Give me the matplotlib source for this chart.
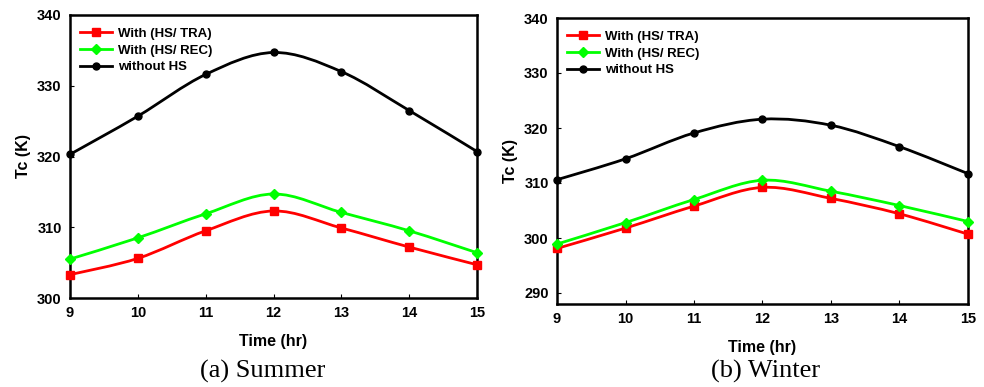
import matplotlib
matplotlib.use("Agg")
import matplotlib.pyplot as plt
from matplotlib.path import Path
from matplotlib.patches import PathPatch
from matplotlib.lines import Line2D

hours = [9, 10, 11, 12, 13, 14, 15]
labels = ["With (HS/ TRA)", "With (HS/ REC)", "without HS"]

summer_tra = [303.3, 305.6, 309.5, 312.3, 309.9, 307.2, 304.7]
summer_rec = [305.5, 308.5, 311.9, 314.7, 312.1, 309.5, 306.4]
summer_without = [320.3, 325.7, 331.6, 334.7, 332.0, 326.5, 320.7]

winter_tra = [298.1, 301.8, 305.8, 309.2, 307.2, 304.4, 300.7]
winter_rec = [298.9, 302.8, 307.0, 310.5, 308.5, 305.9, 303.0]
winter_without = [310.6, 314.4, 319.1, 321.6, 320.5, 316.6, 311.7]

captions = ["(a) Summer", "(b) Winter"]

plt.rcParams['font.family'] = ['Liberation Sans', 'DejaVu Sans']

fig = plt.figure(figsize=(9.84, 3.87), dpi=100)
W, H = 984, 387

def add_axes(l, t, r, b):
    return fig.add_axes([l / W, 1 - b / H, (r - l) / W, (b - t) / H])

ax1 = add_axes(70, 15, 477, 298)
ax2 = add_axes(557, 18, 968, 304)

styles = [
    dict(color="#ff0000", marker="s", markersize=6),
    dict(color="#00ff00", marker="D", markersize=5),
    dict(color="black", marker="o", markersize=5),
]

def smooth_path(x, y):
    # Catmull-Rom style Bezier path through the data points
    n = len(x)
    verts = [(x[0], y[0])]
    codes = [Path.MOVETO]
    for i in range(n - 1):
        x0, y0 = (x[i - 1], y[i - 1]) if i > 0 else (x[i], y[i])
        x1, y1 = x[i], y[i]
        x2, y2 = x[i + 1], y[i + 1]
        x3, y3 = (x[i + 2], y[i + 2]) if i + 2 < n else (x2, y2)
        c1 = (x1 + (x2 - x0) / 6, y1 + (y2 - y0) / 6)
        c2 = (x2 - (x3 - x1) / 6, y2 - (y3 - y1) / 6)
        verts += [c1, c2, (x2, y2)]
        codes += [Path.CURVE4] * 3
    return Path(verts, codes)

def draw(ax, series, ylim, yticks, caption, cap_x):
    handles = []
    for s, lab, st in zip(series, labels, styles):
        ax.add_patch(PathPatch(smooth_path(hours, s), fill=False,
                               edgecolor=st["color"], lw=2, zorder=2))
        ax.plot(hours, s, ls="none", clip_on=False, zorder=3, **st)
        handles.append(Line2D([], [], lw=2, label=lab, **st))
    ax.set_xlim(9, 15)
    ax.set_ylim(*ylim)
    ax.set_xticks(hours)
    ax.set_yticks(yticks)
    ax.tick_params(direction="in", length=3, width=0.8, labelsize=10.5, pad=6)
    for t in ax.get_xticklabels() + ax.get_yticklabels():
        t.set_fontweight("bold")
    for sp in ax.spines.values():
        sp.set_linewidth(1.8)
    ax.set_xlabel("Time (hr)", fontsize=11.5, fontweight="bold", labelpad=10)
    ax.set_ylabel("Tc (K)", fontsize=11.5, fontweight="bold", labelpad=4)
    ax.legend(handles=handles, loc="upper left", frameon=False,
              bbox_to_anchor=(0.0, 0.99),
              handlelength=2.4, handletextpad=0.5, borderaxespad=0.35,
              labelspacing=0.33, prop=dict(weight="bold", size=9.5))
    fig.text(cap_x / W, 1 - 371 / H, caption, ha="center", va="center",
             fontsize=19, family="Liberation Serif")

draw(ax1, [summer_tra, summer_rec, summer_without], (300, 340),
     [300, 310, 320, 330, 340], captions[0], 263)
draw(ax2, [winter_tra, winter_rec, winter_without], (288, 340),
     [290, 300, 310, 320, 330, 340], captions[1], 766)

fig.savefig("out.png", dpi=100)
